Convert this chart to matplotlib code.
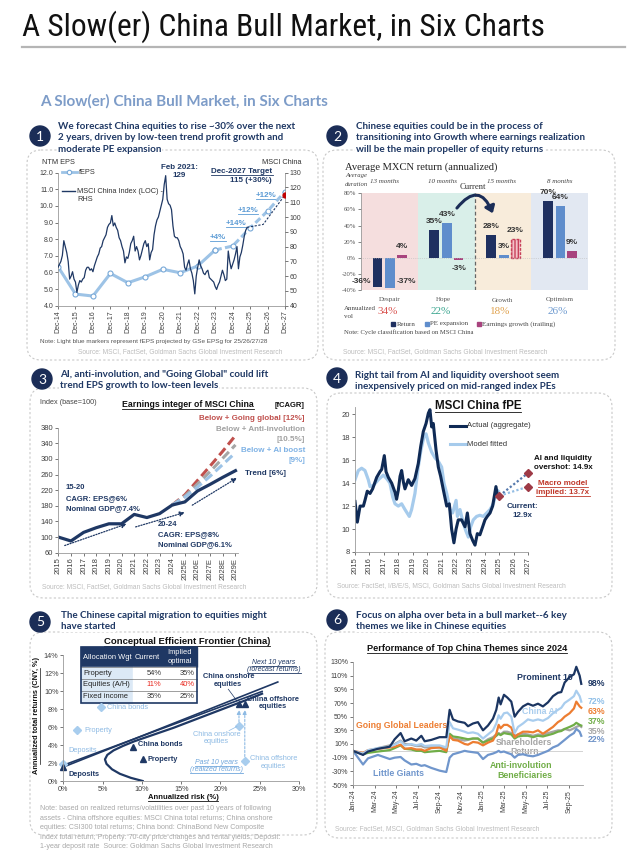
import numpy as np
import matplotlib
matplotlib.use("Agg")
import matplotlib.pyplot as plt
from matplotlib import font_manager
from matplotlib.patches import Circle, FancyArrowPatch, FancyBboxPatch, Rectangle

plt.rcParams["font.family"] = ["Liberation Sans", "DejaVu Sans"]

W, H = 644, 857
NAVY = "#1f3864"
LIGHT = "#9dc3e6"
SRC = "#bcbcbc"
TITLE_FONT = ["Lato", "DejaVu Sans"]

# ---- panel 1: NTM EPS and MSCI China index
eps_labels = ["Dec-14", "Dec-15", "Dec-16", "Dec-17", "Dec-18", "Dec-19", "Dec-20",
              "Dec-21", "Dec-22", "Dec-23", "Dec-24", "Dec-25", "Dec-26", "Dec-27"]
feps = [6.35, 4.70, 4.58, 5.94, 5.38, 5.74, 6.19, 5.98, 6.39, 7.35, 7.59, 8.67, 9.69, 10.86]
# monthly, Dec-14 .. Oct-25
msci_index = [66,
              68, 70, 74, 84, 80, 76, 70, 58, 60, 63, 58, 56,
              49, 54, 57, 56, 58, 59, 64, 66, 66, 64, 65, 63,
              67, 70, 73, 75, 79, 80, 84, 86, 88, 93, 95, 96,
              101, 94, 96, 93, 91, 86, 84, 80, 77, 69, 73, 72,
              76, 82, 84, 87, 77, 80, 77, 71, 74, 78, 82, 84,
              80, 82, 71, 76, 78, 88, 94, 98, 100, 104, 108, 112,
              122, 128, 112, 109, 108, 105, 94, 87, 86, 86, 84, 80,
              78, 75, 66, 64, 68, 71, 65, 62, 57, 48, 60, 66,
              71, 67, 65, 62, 61, 63, 64, 59, 58, 57, 56, 53,
              51, 54, 56, 60, 64, 61, 57, 58, 77, 70, 65, 68,
              71, 75, 80, 65, 73, 76, 81, 87, 91, 93]
index_forecast_dates = ["Oct-25", "Sep-26", "Dec-27"]
index_forecast = [93, 95, 115]
gains = ["+4%", "+14%", "+12%", "+12%"]

# ---- panel 2: MXCN return by cycle phase
phases = ["Despair", "Hope", "Growth", "Optimism"]
durations = ["13 months", "10 months", "15 months", "8 months"]
ret = [-36, 35, 28, 70]
pe_exp = [-37, 43, 3, 64]
eps_growth = [4, -3, 23, 9]
vol = ["34%", "22%", "18%", "26%"]

# ---- panel 3: earnings integer
p3_years = ["2015", "2016", "2017", "2018", "2019", "2020", "2021", "2022", "2023", "2024",
            "2025E", "2026E", "2027E", "2028E", "2029E"]
trend = [100, 90, 112, 124, 134, 134, 158, 150, 160, 182, 190, 218, 235, 253, 270]
going_global = [182, 208, 245, 282, 320, 360]
anti_involution = [182, 205, 236, 268, 302, 336]
ai_boost = [182, 202, 228, 256, 286, 316]

# ---- panel 4: MSCI China fPE
actual_t = [2015.00, 2015.16, 2015.35, 2015.58, 2015.69, 2015.85, 2016.04, 2016.22, 2016.50,
            2016.73, 2016.85, 2017.03, 2017.15, 2017.31, 2017.54, 2017.77, 2017.88, 2018.00,
            2018.12, 2018.23, 2018.35, 2018.46, 2018.69, 2018.92, 2019.15, 2019.38, 2019.55,
            2019.73, 2019.92, 2020.08, 2020.19, 2020.31, 2020.42, 2020.61, 2020.77, 2020.93,
            2021.12, 2021.35, 2021.53, 2021.69, 2021.85, 2022.00, 2022.15, 2022.38, 2022.62,
            2022.78, 2022.96, 2023.15, 2023.31, 2023.47, 2023.65, 2023.84, 2024.00, 2024.16,
            2024.35, 2024.53, 2024.76, 2024.88, 2025.00]
actual_pe = [12.4, 10.6, 12.0, 12.0, 12.5, 13.3, 13.1, 13.5, 14.5, 15.0, 15.2, 16.4, 15.0, 14.5,
             14.0, 13.2, 12.6, 13.4, 14.6, 15.1, 14.1, 13.5, 14.3, 13.8, 14.4, 15.7, 17.2, 18.5,
             19.2, 20.1, 20.4, 18.9, 19.2, 16.9, 15.4, 14.6, 13.4, 12.0, 12.2, 10.0, 8.8, 10.0,
             10.8, 10.8, 10.2, 11.4, 9.6, 9.0, 8.6, 9.6, 9.5, 10.2, 10.8, 11.1, 11.4, 12.0, 13.7,
             12.8, 12.9]
model_t = [2015.00, 2015.23, 2015.46, 2015.69, 2015.92, 2016.04, 2016.27, 2016.62, 2016.96,
           2017.19, 2017.42, 2017.61, 2017.77, 2018.00, 2018.23, 2018.46, 2018.76, 2018.92,
           2019.15, 2019.38, 2019.57, 2019.78, 2019.92, 2020.08, 2020.31, 2020.54, 2020.77,
           2021.00, 2021.16, 2021.35, 2021.58, 2021.76, 2022.00, 2022.09, 2022.27, 2022.50,
           2022.69, 2022.85, 2023.01, 2023.19, 2023.42, 2023.65, 2023.88, 2024.12, 2024.35,
           2024.58, 2024.76, 2024.92]
model_pe = [14.3, 15.1, 15.3, 15.1, 14.3, 13.7, 13.8, 14.3, 14.7, 14.4, 14.0, 12.8, 12.2, 12.0,
            12.2, 11.7, 11.1, 11.7, 13.1, 15.4, 16.9, 18.1, 18.3, 17.5, 16.7, 16.2, 15.9, 15.4,
            14.0, 13.1, 11.7, 11.4, 12.5, 11.1, 11.7, 10.5, 9.8, 9.3, 10.2, 10.8, 11.1, 11.2,
            11.1, 11.4, 11.7, 12.2, 13.1, 13.3]
pe_current = 12.9
pe_overshoot = 14.9
pe_macro = 13.7

# ---- panel 5: efficient frontier (risk %, return %)
frontier_risk = [10.1, 8.6, 7.2, 6.2, 5.5, 5.3, 5.6, 6.4, 7.6, 9.0, 11.0, 14.0, 17.0, 20.0, 23.0, 25.3]
frontier_ret = [0.0, 0.35, 0.8, 1.3, 1.9, 2.4, 2.9, 3.4, 3.9, 4.4, 5.0, 5.9, 6.9, 7.9, 8.9, 9.7]
cml_next_risk = [0, 27.3]
cml_next_ret = [1.55, 11.0]
cml_past_risk = [0, 25.3]
cml_past_ret = [1.75, 9.95]
assets = ["Deposits", "Property", "China bonds", "China onshore equities", "China offshore equities"]
past_risk = [0.0, 1.8, 4.75, 22.36, 23.1]
past_ret = [1.9, 5.67, 8.26, 6.11, 2.26]
next_risk = [0.0, 10.2, 8.9, 22.36, 23.1]
next_ret = [1.52, 2.44, 3.74, 8.56, 8.56]
alloc_rows = ["Property", "Equities (A/H)", "Fixed income"]
alloc_current = ["54%", "11%", "35%"]
alloc_optimal = ["35%", "40%", "25%"]

# ---- panel 6: theme performance since Jan-24 (months elapsed)
theme_months = [0.0, 0.93, 1.39, 2.31, 3.40, 3.86, 4.41, 4.78, 5.40, 5.86, 6.33, 6.64, 7.25, 8.02,
                8.64, 8.95, 9.26, 9.72, 10.34, 10.65, 11.11, 11.57, 12.04, 12.50, 12.96, 13.27,
                13.49, 13.67, 13.98, 14.29, 14.66, 14.97, 15.28, 15.74, 16.20, 16.67, 17.13,
                17.59, 18.06, 18.52, 18.98, 19.29, 19.60, 20.06, 20.46, 20.68, 20.99, 21.14]
prominent10 = [0, -6, -1, 3, 6, 17, 26, 14, 18, 15, 22, 14, 16, 20, 20, 60, 46, 43, 41, 36, 40,
               42, 30, 37, 47, 60, 78, 68, 82, 78, 72, 50, 57, 65, 69, 66, 69, 65, 71, 80, 85,
               86, 100, 108, 112, 123, 110, 98]
china_ai = [0, -4, 1, 4, 6, 9, 14, 8, 10, 8, 10, 7, 8, 8, 5, 42, 33, 31, 28, 26, 27, 25, 18, 24,
            30, 40, 52, 47, 55, 56, 50, 26, 35, 40, 46, 44, 46, 44, 48, 55, 60, 63, 70, 75, 80,
            88, 80, 72]
going_global_leaders = [0, -3, 1, 3, 5, 6, 9, 3, 4, 2, 2, 0, 4, 5, 0, 22, 16, 15, 10, 9, 13, 12,
                        8, 12, 15, 25, 38, 33, 38, 38, 34, 20, 24, 28, 28, 27, 30, 25, 30, 35,
                        42, 45, 50, 55, 62, 72, 65, 63]
shareholders = [0, -5, 0, 4, 8, 10, 15, 10, 9, 7, 7, 5, 5, 5, 4, 20, 18, 17, 15, 16, 18, 18, 12,
                17, 20, 24, 26, 24, 28, 28, 26, 22, 24, 25, 24, 22, 24, 23, 26, 28, 30, 30, 32,
                30, 33, 35, 37, 35]
anti_inv = [0, -5, -3, -1, 1, 4, 8, 3, 2, 0, 0, -2, -1, 0, -2, 25, 21, 20, 18, 17, 18, 18, 12,
            15, 18, 22, 25, 23, 26, 25, 24, 18, 21, 22, 22, 20, 22, 21, 23, 25, 28, 29, 32, 35,
            38, 41, 38, 37]
little_giants = [0, -20, -11, -6, -12, -10, -9, -14, -20, -19, -22, -21, -25, -29, -31, -10, -5,
                 -3, 0, -1, -2, -3, -12, -6, -4, -2, 0, -2, -1, -3, -5, -10, -6, -5, -7, -8, -6,
                 -3, 0, 5, 8, 12, 16, 22, 26, 32, 28, 22]
theme_ticks = ["Jan-24", "Mar-24", "May-24", "Jul-24", "Sep-24", "Nov-24", "Jan-25", "Mar-25",
               "May-25", "Jul-25", "Sep-25"]

fig = plt.figure(figsize=(W / 100, H / 100), dpi=100)
bg = fig.add_axes([0, 0, 1, 1])
bg.set_xlim(0, W)
bg.set_ylim(H, 0)
bg.axis("off")
underlined = []


def px_axes(left, top, right, bottom):
    return fig.add_axes([left / W, 1 - bottom / H, (right - left) / W, (bottom - top) / H],
                        facecolor="none")


def style_axes(ax, spines=("left", "bottom"), size=5, color="#404040"):
    for name, sp in ax.spines.items():
        sp.set_visible(name in spines)
        sp.set_color("#9a9a9a")
        sp.set_linewidth(0.6)
    ax.tick_params(labelsize=size, colors=color, length=2, width=0.5, pad=1.5)


def txt(x, y, s, size=5.5, color="#333333", weight="normal", ha="left", va="center", under=False, **kw):
    t = bg.text(x, y, s, fontsize=size, color=color, fontweight=weight, ha=ha, va=va, **kw)
    if under:
        underlined.append(t)
    return t


def condensed_font():
    """a narrow regular sans face for the page title, if one is installed"""
    prefs = ["Liberation Sans Narrow", "Roboto Condensed", "Noto Sans Condensed",
             "DejaVu Sans Condensed", "Open Sans Condensed"]
    found = {}
    for f in font_manager.fontManager.ttflist:
        narrow = "Narrow" in f.name or "Condensed" in f.name or f.stretch in ("condensed", "semi-condensed")
        if narrow and f.style == "normal" and f.weight in (400, "normal", "regular") \
                and "Mono" not in f.name and "Serif" not in f.name:
            found.setdefault(f.name, f.fname)
    for name in prefs:
        if name in found:
            return font_manager.FontProperties(fname=found[name])
    if found:
        return font_manager.FontProperties(fname=sorted(found.values())[0])
    return font_manager.FontProperties(family=["Roboto", "DejaVu Sans"])


def panel_frame(num, cx, cy, title_lines, tx, ty, box):
    left, top, right, bottom = box
    bg.add_patch(FancyBboxPatch((left, top), right - left, bottom - top,
                                boxstyle="round,pad=0,rounding_size=14", fill=False,
                                ec="#c8c8c8", lw=0.8, ls=(0, (2, 2))))
    bg.add_patch(Circle((cx, cy), 10, color="#1b2d57", zorder=3))
    txt(cx, cy + 0.5, str(num), size=10, color="white", ha="center", zorder=4, family=TITLE_FONT)
    for i, line in enumerate(title_lines):
        t = txt(tx, ty + i * 11.6, line, size=7.1, color=NAVY, weight="bold", family=TITLE_FONT)
        t.set_bbox(dict(fc="white", ec="none", pad=0.6))


def month_pos(label):
    names = ["Jan", "Feb", "Mar", "Apr", "May", "Jun", "Jul", "Aug", "Sep", "Oct", "Nov", "Dec"]
    m, y = label.split("-")
    return ((int(y) - 14) * 12 + names.index(m) - 11) / 12


def plot_panel1():
    panel_frame(1, 40, 136, ["We forecast China equities to rise ~30% over the next",
                             "2 years, driven by low-teen trend profit growth and",
                             "moderate PE expansion"], 58, 126, (27, 150, 318, 360))
    ax = px_axes(58, 172.7, 285, 305.7)
    style_axes(ax, ("left", "bottom", "right"))
    ax.set_xlim(0, 13)
    ax.set_ylim(4, 12)
    x = np.arange(len(feps))
    ax.plot(x[:10], feps[:10], color=LIGHT, lw=2.2, marker="o", ms=3.6, mfc="white",
            mec="#78a9d8", mew=0.8)
    ax.plot(x[9:], feps[9:], color=LIGHT, lw=2.2, ls=(0, (2.2, 1.1)), marker="o", ms=3.6,
            mfc="white", mec="#78a9d8", mew=0.8)
    ax.set_yticks(np.arange(4, 12.5, 1))
    ax.set_yticklabels([f"{v:.1f}" for v in np.arange(4, 12.5, 1)])
    ax.set_xticks(x)
    ax.set_xticklabels(eps_labels, rotation=90)

    axr = ax.twinx()
    style_axes(axr, ())
    axr.set_ylim(40, 130)
    axr.set_yticks(range(40, 131, 10))
    axr.plot(np.arange(len(msci_index)) / 12, msci_index, color=NAVY, lw=0.9)
    fx = [month_pos(d) for d in index_forecast_dates]
    axr.plot(fx, index_forecast, color=NAVY, lw=0.8, ls=(0, (2, 1.4)))
    axr.plot(fx[-1], index_forecast[-1], marker="o", color="#c00000", ms=3.5)

    bg.plot([62, 77], [172.3, 172.3], color=LIGHT, lw=2)
    bg.plot([69.5], [172.3], marker="o", ms=3.2, mfc="white", mec="#78a9d8", mew=0.8)
    txt(79, 172.3, "fEPS", size=5.3)
    bg.plot([62, 75], [191, 191], color=NAVY, lw=1)
    txt(77, 191, "MSCI China Index (LOC) -", size=5.3)
    txt(77, 199, "RHS", size=5.3)
    txt(42, 162.7, "NTM EPS", size=5.3)
    txt(302, 162.7, "MSCI China", size=5.3, ha="right")
    txt(179, 167.3, "Feb 2021:", size=5.8, color=NAVY, weight="bold", ha="center")
    txt(179, 175.5, "129", size=5.8, color=NAVY, weight="bold", ha="center")
    txt(242, 171.7, "Dec-2027 Target", size=5.8, color=NAVY, weight="bold", ha="center", under=True)
    txt(272, 180.3, "115 (+30%)", size=5.8, color=NAVY, weight="bold", ha="right")
    for s, (gx, gy) in zip(gains, [(218, 237), (236, 223), (248, 210), (266, 195)]):
        txt(gx, gy, s, size=5.8, color="#5b9bd5", weight="bold", ha="center", under=True)
    txt(40, 342, "Note: Light blue markers represent fEPS projected by GSe EPSg for 25/26/27/28", size=4.6,
        color="#555555")
    txt(78, 351.5, "Source: MSCI, FactSet, Goldman Sachs Global Investment Research", size=4.8, color=SRC)


def plot_panel2():
    panel_frame(2, 337, 136, ["Chinese equities could be in the process of",
                              "transitioning into Growth where earnings realization",
                              "will be the main propeller of equity returns"], 356, 126, (323, 150, 615, 360))
    serif = ["Liberation Serif", "DejaVu Serif"]
    ax = px_axes(361, 193.3, 588, 290)
    style_axes(ax, ("left",), size=4.8, color="#555555")
    ax.set_xlim(0, 4)
    ax.set_ylim(-40, 80)
    shades = ["#f5dede", "#d9efe9", "#f8ecdb", "#e2e8f2"]
    for i, c in enumerate(shades):
        ax.axvspan(i, i + 1, color=c, lw=0)
    ax.axvline(2, color="#666666", lw=0.9, ls=(0, (3, 2)))
    ax.axhline(0, color="#bbbbbb", lw=0.5, ls=":")
    x = np.arange(len(phases))
    w = 0.17
    ax.bar(x + 0.29, ret, w, color="#1f3060")
    ax.bar(x + 0.515, pe_exp, w, color="#5f8dcc")
    eg = ax.bar(x + 0.72, eps_growth, w, color="#a8437e")
    eg[2].set_facecolor("#f3c2c8")
    eg[2].set_edgecolor("#c8405a")
    eg[2].set_hatch("|||||")
    eg[2].set_linestyle((0, (2, 1)))
    ax.set_yticks(range(-40, 81, 20))
    ax.set_yticklabels([f"{v}%" for v in range(-40, 81, 20)])
    ax.set_xticks([])
    for lab in ax.get_yticklabels():
        lab.set_family(serif)
    for i in range(len(phases)):
        for off, v in zip((0.29, 0.515, 0.72), (ret[i], pe_exp[i], eps_growth[i])):
            if v < -20:
                continue
            yy = v + 10.5 if v >= 0 else v - 10
            ax.text(i + off, yy, f"{v}%", ha="center", va="center", fontsize=6, fontweight="bold",
                    color="#333333")
    ax.text(0.29 - w / 2 - 0.02, -30, f"{ret[0]}%", ha="right", va="center", fontsize=6,
            fontweight="bold", color="#333333")
    ax.text(0.515 + w / 2 + 0.02, -30, f"{pe_exp[0]}%", ha="left", va="center", fontsize=6,
            fontweight="bold", color="#333333")
    # "Current" arrow from Hope over into Growth
    ax.add_patch(FancyArrowPatch((1.66, 59), (2.34, 52), connectionstyle="arc3,rad=-0.9",
                                 arrowstyle="-|>,head_width=3,head_length=4", color="#1b2d57",
                                 lw=2.2, mutation_scale=1, clip_on=False, zorder=5))

    txt(345, 167.5, "Average MXCN return (annualized)", size=7.6, color="#222222", family=serif)
    txt(345, 175.5, "Average", size=4.8, color="#444444", style="italic", family=serif)
    txt(345, 184, "duration", size=4.8, color="#444444", style="italic", family=serif)
    for d, cx in zip(durations, [385, 443, 502, 560]):
        txt(cx, 181, d, size=5, color="#444444", style="italic", ha="center", family=serif)
    txt(473, 187, "Current", size=6.2, color="#333333", ha="center", family=serif)
    vol_colors = ["#d9534f", "#3aa58f", "#e0a24e", "#6f9bd0"]
    for p, v, c, cx in zip(phases, vol, vol_colors, [390, 443, 502, 560]):
        txt(cx, 300, p, size=5, color="#555555", ha="center", family=serif)
        txt(cx - 2, 311, v, size=8, color=c, ha="center", family=serif)
    txt(344, 309, "Annualized", size=5, color="#444444", family=serif)
    txt(344, 317, "vol", size=5, color="#444444", family=serif)
    for lx, s, c in [(393, "Return", "#1f3060"), (427, "PE expansion", "#5f8dcc"),
                     (479, "Earnings growth (trailing)", "#a8437e")]:
        bg.add_patch(Rectangle((lx - 1.6, 322.3), 3.2, 3.4, color=c))
        txt(lx + 3.5, 324, s, size=5, color="#444444", family=serif)
    txt(344, 331.7, "Note: Cycle classification based on MSCI China", size=4.8, color="#444444", family=serif)
    txt(343, 351.5, "Source: MSCI, FactSet, Goldman Sachs Global Investment Research", size=4.8, color=SRC)


def plot_panel3():
    panel_frame(3, 42, 379, ['AI, anti-involution, and "Going Global" could lift',
                             "trend EPS growth to low-teen levels"], 60, 374, (30, 388, 317, 598))
    ax = px_axes(58.3, 427.7, 238, 552.7)
    style_axes(ax, size=5.5)
    ax.set_xlim(0, 14.2)
    ax.set_ylim(60, 380)
    x = np.arange(len(p3_years))
    fx = x[9:]
    ax.plot(fx, going_global, color="#c0504d", lw=2.2, ls=(0, (3, 1.5)))
    ax.plot(fx, anti_involution, color="#a6a6a6", lw=2.2, ls=(0, (3, 1.5)))
    ax.plot(fx, ai_boost, color=LIGHT, lw=2.2, ls=(0, (3, 1.5)))
    ax.plot(x, trend, color=NAVY, lw=2.3)
    for (x0, y0), (x1, y1) in [((0.3, 76), (5.6, 136)), ((5.9, 124), (10.2, 165)),
                               ((10.4, 178), (14.3, 255))]:
        ax.annotate("", xy=(x1, y1), xytext=(x0, y0), annotation_clip=False,
                    arrowprops=dict(arrowstyle="-|>,head_width=0.18,head_length=0.35",
                                    color=NAVY, lw=0.9, ls=(0, (1, 1.2)), mutation_scale=8))
    ax.set_xticks(x)
    ax.set_xticklabels(p3_years, rotation=90)
    ax.set_yticks(range(60, 381, 40))

    txt(40, 402.5, "Index (base=100)", size=5.2, color="#444444")
    txt(188, 404.3, "Earnings integer of MSCI China", size=6.3, color="#111111", weight="bold",
        ha="center", under=True)
    txt(305, 405.7, "[fCAGR]", size=5.5, color="#111111", weight="bold", ha="right")
    txt(305, 418.3, "Below + Going global [12%]", size=5.8, color="#c0504d", weight="bold", ha="right")
    txt(305, 429.3, "Below + Anti-involution", size=5.8, color="#a0a0a0", weight="bold", ha="right")
    txt(305, 439, "[10.5%]", size=5.8, color="#a0a0a0", weight="bold", ha="right")
    txt(305, 450.3, "Below + AI boost", size=5.8, color="#7fb2e5", weight="bold", ha="right")
    txt(305, 460, "[9%]", size=5.8, color="#7fb2e5", weight="bold", ha="right")
    txt(245, 473.3, "Trend [6%]", size=5.8, color=NAVY, weight="bold")
    for i, s in enumerate(["15-20", "CAGR: EPS@6%", "Nominal GDP@7.4%"]):
        txt(66, 487.7 + i * 10.6, s, size=5.5, color=NAVY, weight="bold")
    for i, s in enumerate(["20-24", "CAGR: EPS@8%", "Nominal GDP@6.1%"]):
        txt(158, 524.3 + i * 10.3, s, size=5.5, color=NAVY, weight="bold")
    txt(42, 586.7, "Source: MSCI, FactSet, Goldman Sachs Global Investment Research", size=4.8, color=SRC)


def plot_panel4():
    panel_frame(4, 337, 378, ["Right tail from AI and liquidity overshoot seem",
                              "inexpensively priced on mid-ranged index PEs"], 355, 375, (327, 393, 612, 598))
    ax = px_axes(355, 407.4, 528.3, 552)
    style_axes(ax, size=5.5)
    ax.set_xlim(2015, 2027)
    ax.set_ylim(8, 20.6)
    ax.plot(model_t, model_pe, color="#a6cbec", lw=2.3)
    ax.plot(actual_t, actual_pe, color="#0f2a55", lw=2.2)
    ax.plot([2025, 2027], [pe_current, pe_overshoot], color="#5579ad", lw=1.6, ls=(0, (1, 1)))
    ax.plot([2025, 2027], [pe_current, pe_macro], color="#93bde4", lw=1.6, ls=(0, (1, 1)))
    ax.plot([2025, 2027, 2027], [pe_current, pe_overshoot, pe_macro], ls="none", marker="D",
            ms=3.6, color="#9e3a46", clip_on=False)
    ax.set_xticks(range(2015, 2028))
    ax.set_xticklabels([str(y) for y in range(2015, 2028)], rotation=90)
    ax.set_yticks(range(8, 21, 2))

    txt(478, 405.7, "MSCI China fPE", size=8.3, color="#111111", weight="bold", ha="center", under=True)
    bg.plot([450, 466.5], [425.7, 425.7], color="#0f2a55", lw=2.2)
    txt(467, 425.7, "Actual (aggregate)", size=5.5)
    bg.plot([450, 466.5], [444.3, 444.3], color="#a6cbec", lw=2.2)
    txt(467, 444.3, "Model fitted", size=5.5)
    txt(563, 458.3, "AI and liquidity", size=5.8, color="#111111", weight="bold", ha="center")
    txt(563, 467.7, "overshot: 14.9x", size=5.8, color="#111111", weight="bold", ha="center")
    txt(563, 483.3, "Macro model", size=5.8, color="#c0392b", weight="bold", ha="center", under=True)
    txt(563, 492.3, "implied: 13.7x", size=5.8, color="#c0392b", weight="bold", ha="center", under=True)
    txt(522, 506.7, "Current:", size=5.8, color=NAVY, weight="bold", ha="center")
    txt(522, 515.7, "12.9x", size=5.8, color=NAVY, weight="bold", ha="center")
    txt(337, 586, "Source: FactSet, I/B/E/S, MSCI, Goldman Sachs Global Investment Research", size=4.8,
        color=SRC)


def plot_panel5():
    panel_frame(5, 40, 622, ["The Chinese capital migration to equities might",
                             "have started"], 61, 615, (30, 632, 317, 835))
    ax = px_axes(63.3, 655, 299, 781)
    style_axes(ax, size=5.2)
    ax.set_xlim(0, 30)
    ax.set_ylim(0, 14)
    ax.plot(cml_next_risk, cml_next_ret, color=NAVY, lw=1.2)
    ax.plot(cml_past_risk, cml_past_ret, color=NAVY, lw=1.2)
    ax.plot(frontier_risk, frontier_ret, color=NAVY, lw=1.6)
    ax.plot(past_risk, past_ret, ls="none", marker="D", ms=3.6, color="#a8cdee", clip_on=False)
    ax.plot(next_risk, next_ret, ls="none", marker="^", ms=5, color=NAVY, clip_on=False)
    for i in (3, 4):
        ax.annotate("", xy=(past_risk[i], next_ret[i] - 0.35), xytext=(past_risk[i], past_ret[i] + 0.15),
                    arrowprops=dict(arrowstyle="-|>,head_width=0.15,head_length=0.3", color="#8fbbe4",
                                    lw=0.8, ls=(0, (2, 1.5)), mutation_scale=8))
    ax.plot([21.0, 22.1], [10.2, 8.9], color=NAVY, lw=0.5)
    ax.plot([21.1, 22.1], [5.6, 6.05], color="#8fbbe4", lw=0.5)
    ax.set_xticks(range(0, 31, 5))
    ax.set_xticklabels([f"{v}%" for v in range(0, 31, 5)])
    ax.set_yticks(range(0, 15, 2))
    ax.set_yticklabels([f"{v}%" for v in range(0, 15, 2)])

    txt(187, 641, "Conceptual Efficient Frontier (China)", size=6.8, color="#111111", weight="bold",
        ha="center", under=True)
    txt(183, 797.7, "Annualized risk (%)", size=5.5, color="#111111", weight="bold", ha="center", under=True)
    txt(37, 716, "Annualized total returns (CNY, %)", size=5.3, color="#111111", weight="bold",
        ha="center", rotation=90)
    bg.plot([40.5, 40.5], [668, 764], color="#111111", lw=0.5)

    # allocation table
    cols = [81, 133.3, 165, 196.7]
    rows = [647.3, 667.3, 679.3, 690.7, 702.7]
    bg.add_patch(Rectangle((cols[0], rows[0]), cols[3] - cols[0], rows[1] - rows[0], color="#1f3864", zorder=3))
    for r in range(3):
        bg.add_patch(Rectangle((cols[0], rows[r + 1]), cols[1] - cols[0], rows[r + 2] - rows[r + 1],
                               color="#dce9f6", zorder=3))
        bg.add_patch(Rectangle((cols[1], rows[r + 1]), cols[3] - cols[1], rows[r + 2] - rows[r + 1],
                               color="white", zorder=3))
        bg.plot([cols[0], cols[3]], [rows[r + 1], rows[r + 1]], color="#555555", lw=0.4, zorder=4)
    bg.add_patch(Rectangle((cols[0], rows[0]), cols[3] - cols[0], rows[4] - rows[0], fill=False,
                           ec="#1f3864", lw=1.2, zorder=5))
    txt(83.5, 657.3, "Allocation Wgt", size=5.4, color="white", zorder=6)
    txt(147, 657.3, "Current", size=5.4, color="white", ha="center", zorder=6)
    txt(180, 652.7, "Implied", size=5.4, color="white", ha="center", zorder=6)
    txt(180, 661.9, "optimal", size=5.4, color="white", ha="center", zorder=6)
    for r in range(3):
        yc = (rows[r + 1] + rows[r + 2]) / 2
        c = "#e8261c" if r == 1 else "#333333"
        txt(83.5, yc, alloc_rows[r], size=5.4, color="#222222", zorder=6)
        txt(161.5, yc, alloc_current[r], size=5.4, color=c, ha="right", zorder=6)
        txt(194.5, yc, alloc_optimal[r], size=5.4, color=c, ha="right", zorder=6)

    lb = "#8fbbe4"
    txt(106.7, 707.3, "China bonds", size=5.3, color=lb)
    txt(84.5, 730.7, "Property", size=5.3, color=lb)
    txt(68.5, 751, "Deposits", size=5.3, color=lb)
    txt(137.7, 744, "China bonds", size=5.3, color=NAVY, weight="bold")
    txt(147.7, 759.3, "Property", size=5.3, color=NAVY, weight="bold")
    txt(69, 774, "Deposits", size=5.3, color=NAVY, weight="bold")
    txt(228.3, 676.7, "China onshore", size=5.3, color=NAVY, weight="bold", ha="center")
    txt(228.3, 684, "equities", size=5.3, color=NAVY, weight="bold", ha="center")
    txt(273, 699.3, "China offshore", size=5.3, color=NAVY, weight="bold", ha="center")
    txt(273, 706.7, "equities", size=5.3, color=NAVY, weight="bold", ha="center")
    txt(216.7, 734, "China onshore", size=5.3, color=lb, ha="center")
    txt(216.7, 741.7, "equities", size=5.3, color=lb, ha="center")
    txt(273.5, 758.3, "China offshore", size=5.3, color=lb, ha="center")
    txt(273.5, 766, "equities", size=5.3, color=lb, ha="center")
    txt(274, 662.7, "Next 10 years", size=5, color=NAVY, style="italic", ha="center", under=True)
    txt(274, 669.5, "(forecast returns)", size=5, color=NAVY, style="italic", ha="center", under=True)
    txt(216.7, 762.7, "Past 10 years", size=5, color="#6fa6dc", style="italic", ha="center", under=True)
    txt(216.7, 769.5, "(realized returns)", size=5, color="#6fa6dc", style="italic", ha="center", under=True)

    notes = ["Note: based on realized returns/volatilities over past 10 years of following",
             "assets - China offshore equities: MSCI China total returns; China onshore",
             "equities: CSI300 total returns; China bond: ChinaBond New Composite",
             "Index total return; Property: 70-city price changes and rental yields; Deposit:",
             "1-year deposit rate  Source: Goldman Sachs Global Investment Research"]
    for i, s in enumerate(notes):
        txt(40, 809 + i * 9.35, s, size=5.1, color="#a8a8a8")


def plot_panel6():
    panel_frame(6, 337, 620, ["Focus on alpha over beta in a bull market--6 key",
                              "themes we like in Chinese equities"], 356, 615, (325, 632, 612, 838))
    ax = px_axes(353, 662, 583, 785)
    style_axes(ax, size=5)
    ax.set_xlim(0, 21.3)
    ax.set_ylim(-50, 130)
    ax.axhline(0, color="#cccccc", lw=0.6)
    series = [(shareholders, "#a5a5a5"), (little_giants, "#7096cc"), (anti_inv, "#70ad47"),
              (going_global_leaders, "#ed7d31"), (china_ai, "#a9cdee"), (prominent10, "#1b3561")]
    for vals, c in series:
        ax.plot(theme_months, vals, color=c, lw=1.6)
    ax.set_xticks(range(0, 21, 2))
    ax.set_xticklabels(theme_ticks, rotation=90)
    ax.set_yticks(range(-50, 131, 20))
    ax.set_yticklabels([f"{v}%" for v in range(-50, 131, 20)])

    txt(467, 648.3, "Performance of Top China Themes since 2024", size=6.6, color="#111111",
        weight="bold", ha="center", under=True)
    ends = [("98%", NAVY, 683), ("72%", "#8fbfe8", 701), ("63%", "#ed7d31", 711),
            ("37%", "#70ad47", 722), ("35%", "#a5a5a5", 731), ("22%", "#6f93c8", 740)]
    for s, c, y in ends:
        txt(588, y, s, size=6.3, color=c, weight="bold")
    txt(545, 677.3, "Prominent 10", size=6.3, color=NAVY, weight="bold", ha="center")
    txt(540, 711.7, "China AI", size=6.3, color="#a9cdee", weight="bold", ha="center")
    txt(401.7, 726, "Going Global Leaders", size=6.3, color="#ed7d31", weight="bold", ha="center")
    txt(524, 742.3, "Shareholders", size=6.3, color="#a5a5a5", weight="bold", ha="center")
    txt(525, 751.7, "Return", size=6.3, color="#a5a5a5", weight="bold", ha="center")
    txt(521, 766, "Anti-involution", size=6.3, color="#70ad47", weight="bold", ha="center")
    txt(525, 775.7, "Beneficiaries", size=6.3, color="#70ad47", weight="bold", ha="center")
    txt(399, 773.3, "Little Giants", size=6.3, color="#7096cc", weight="bold", ha="center")
    txt(335, 828.3, "Source: FactSet, MSCI, Goldman Sachs Global Investment Research", size=4.8, color=SRC)


def add_page_title():
    fp = condensed_font()
    fp.set_size(22.5)
    t = bg.text(22, 36, "A Slow(er) China Bull Market, in Six Charts", fontproperties=fp,
                color="#111111", va="baseline")
    fig.canvas.draw()
    width = t.get_window_extent(fig.canvas.get_renderer()).width
    fp.set_size(22.5 * 523 / width)
    t.set_fontproperties(fp)
    bg.plot([22, 625], [46.5, 46.5], color="#b5b5b5", lw=1.6)
    bg.text(40, 101, "A Slow(er) China Bull Market, in Six Charts", fontsize=11, color="#7d9cc8",
            fontweight="bold", family=TITLE_FONT, va="center")


def add_underlines():
    fig.canvas.draw()
    renderer = fig.canvas.get_renderer()
    for t in underlined:
        bb = t.get_window_extent(renderer)
        y = H - bb.y0 + 0.2
        bg.plot([bb.x0, bb.x1], [y, y], color=t.get_color(), lw=0.6)


def main():
    add_page_title()
    plot_panel1()
    plot_panel2()
    plot_panel3()
    plot_panel4()
    plot_panel5()
    plot_panel6()
    add_underlines()
    fig.savefig("out.png", dpi=100, facecolor="white")


if __name__ == "__main__":
    main()
